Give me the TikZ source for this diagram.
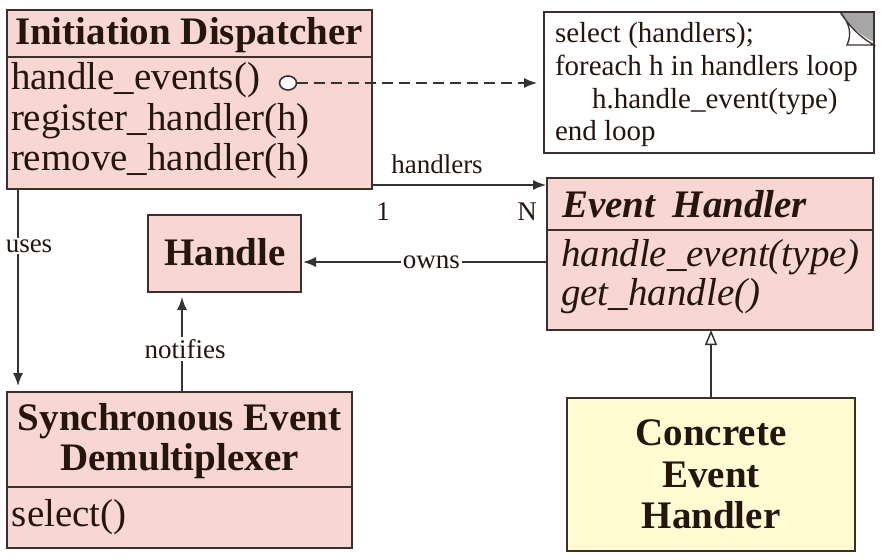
\documentclass[tikz,border=0pt]{standalone}
\usepackage{fontspec}
\setmainfont{Liberation Serif}
\usetikzlibrary{arrows.meta,calc,shapes.geometric}
\definecolor{pinkfill}{HTML}{F8D7D3}
\definecolor{yellowfill}{HTML}{FFFCD2}
\definecolor{boxline}{HTML}{3C302E}
\definecolor{txt}{HTML}{24150F}
\definecolor{conn}{HTML}{333333}
\newcommand\fbig{\fontsize{39}{40}\selectfont}
\newcommand\fnote{\fontsize{29}{31}\selectfont}
\newcommand\flab{\fontsize{27}{28}\selectfont}
\tikzset{
  umlbox/.style={draw=boxline, line width=2pt, rectangle, inner sep=0pt, outer sep=0pt},
  pinkbox/.style={umlbox, fill=pinkfill},
  yellowbox/.style={umlbox, fill=yellowfill},
  notebox/.style={draw=boxline, line width=1.5pt, fill=white, rectangle, inner sep=0pt, outer sep=0pt},
  sepline/.style={draw=boxline, line width=1.6pt},
  txtnode/.style={inner sep=0pt, outer sep=0pt, text=txt},
  connector/.style={draw=conn, line width=1.5pt},
  tip/.style={-{Latex[length=13pt,width=10pt]}},
  lab/.style={inner sep=2pt, fill=white, text=txt, font=\flab},
}
\begin{document}
\begin{tikzpicture}[x=1pt,y=-1pt]
\useasboundingbox (0,0) rectangle (882,559);
% boxes
\node[pinkbox, minimum width=365pt, minimum height=179pt] (id) at (189.5,99.5) {};
\node[notebox, minimum width=330pt, minimum height=141pt] (note) at (709,82.5) {};
\node[pinkbox, minimum width=326pt, minimum height=152pt] (eh) at (710,254) {};
\node[pinkbox, minimum width=153pt, minimum height=77pt] (handle) at (224.5,253.5) {};
\node[pinkbox, minimum width=345pt, minimum height=156pt] (sync) at (179.5,470) {};
\node[yellowbox, minimum width=288pt, minimum height=153pt] (conc) at (711,474.5) {};
% separators
\draw[sepline] (7,57) -- (372,57);
\draw[sepline] (547,230) -- (873,230);
\draw[sepline] (7,487) -- (352,487);
% folded corner of note
\fill[gray!70] (840,12) -- (874,12) -- (874,42) .. controls (858,34) and (848,24) .. (840,12);
\draw[boxline, line width=1.3pt, fill=white] (840,12) .. controls (850,24) and (852,34) .. (847,45) -- (874,45) .. controls (858,36) and (848,24) .. (840,12);
\draw[boxline, line width=1.5pt] (840,12) -- (874,12) -- (874,50);
% texts: Initiation Dispatcher
\node[txtnode, anchor=base, font=\fbig\bfseries] (idt) at (189,45) {Initiation Dispatcher};
\node[txtnode, anchor=base west, font=\fbig] (m1) at (11,90) {handle\_events()};
\node[txtnode, anchor=base west, font=\fbig] (m2) at (11,130) {register\_handler(h)};
\node[txtnode, anchor=base west, font=\fbig] (m3) at (11,170) {remove\_handler(h)};
% note text
\node[txtnode, anchor=base west, font=\fnote] (n1) at (555,43) {select (handlers);};
\node[txtnode, anchor=base west, font=\fnote] (n2) at (555,76) {foreach h in handlers loop};
\node[txtnode, anchor=base west, font=\fnote] (n3) at (592,108) {h.handle\_event(type)};
\node[txtnode, anchor=base west, font=\fnote] (n4) at (555,140) {end loop};
% Event Handler
\node[txtnode, anchor=base west, font=\fbig\bfseries\itshape] (eht) at (562,217) {Event\hspace{0.45em}Handler};
\node[txtnode, anchor=base west, font=\fbig\itshape] (e1) at (561,266) {handle\_event(type)};
\node[txtnode, anchor=base west, font=\fbig\itshape] (e2) at (561,305) {get\_handle()};
% Handle
\node[txtnode, anchor=base, font=\fbig\bfseries] (ht) at (225,265) {Handle};
% Sync
\node[txtnode, anchor=base, font=\fbig\bfseries] (s1) at (179.5,430) {Synchronous Event};
\node[txtnode, anchor=base, font=\fbig\bfseries] (s2) at (179.5,470) {Demultiplexer};
\node[txtnode, anchor=base west, font=\fbig] (s3) at (12,526) {select()};
% Concrete
\node[txtnode, anchor=base, font=\fbig\bfseries] (c1) at (711,445) {Concrete};
\node[txtnode, anchor=base, font=\fbig\bfseries] (c2) at (711,487) {Event};
\node[txtnode, anchor=base, font=\fbig\bfseries] (c3) at (711,528) {Handler};
% connectors
\node[ellipse, draw=conn, line width=1.6pt, fill=white, minimum width=17pt, minimum height=14pt, inner sep=0pt, outer sep=0pt] (ball) at (288,83) {};
\draw[connector, dash pattern=on 11pt off 6pt, tip, shorten >=7pt] (ball) -- (ball -| note.west);
\coordinate (hstart) at (373,185);
\draw[connector, tip, shorten >=1pt] (hstart) -- (hstart -| eh.west);
\node[txtnode, anchor=base, font=\flab] (hlab) at (437,173) {handlers};
\node[txtnode, font=\flab] (one) at (383,212) {1};
\node[txtnode, font=\flab] (many) at (527,212) {N};
\coordinate (ostart) at (547,262);
\draw[connector, tip, shorten >=2pt] (ostart) -- (ostart -| handle.east) node[lab, pos=0.47] (owns) {owns};
\coordinate (ustart) at (18,189);
\draw[connector, tip, shorten >=6pt] (ustart) -- (ustart |- sync.north);
\node[lab] (uses) at (29,246) {uses};
\coordinate (nstart) at (182,392);
\draw[connector, tip, shorten >=5pt] (nstart) -- (nstart |- handle.south);
\node[lab] (notif) at (185,349) {notifies};
\draw[connector, -{Triangle[open, length=15pt, width=12pt]}] (conc.north) -- (conc.north |- eh.south);
\end{tikzpicture}
\end{document}
